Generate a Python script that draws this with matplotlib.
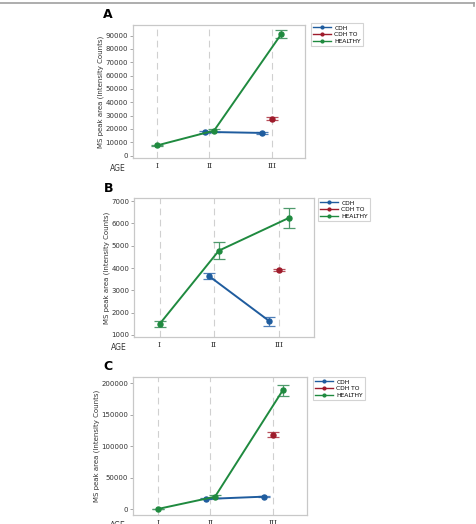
import numpy as np
import matplotlib
matplotlib.use("Agg")
import matplotlib.pyplot as plt
from matplotlib.lines import Line2D

# age groups on the x axis (Minitab spaces III a bit wider)
ages = ["I", "II", "III"]
age_pos = [1.0, 2.0, 3.2]

groups = ["CDH", "CDH TO", "HEALTHY"]
# which ages each group was measured at
cdh_ages = ["II", "III"]
cdhto_ages = ["III"]
healthy_ages = ["I", "II", "III"]

# panel A
a_cdh = [17800, 17000]
a_cdh_err = [1000, 900]
a_cdhto = [27750]
a_cdhto_err = [1250]
a_healthy = [7700, 18750, 91000]
a_healthy_err = [500, 1400, 3000]
a_ticks = list(range(0, 90001, 10000))

# panel B
b_cdh = [3640, 1620]
b_cdh_err = [120, 200]
b_cdhto = [3910]
b_cdhto_err = [30]
b_healthy = [1490, 4780, 6250]
b_healthy_err = [125, 380, 440]
b_ticks = list(range(1000, 7001, 1000))

# panel C
c_cdh = [16400, 20100]
c_cdh_err = [800, 800]
c_cdhto = [118500]
c_cdhto_err = [4500]
c_healthy = [500, 20000, 189000]
c_healthy_err = [300, 2000, 9000]
c_ticks = list(range(0, 200001, 50000))

colors = {"CDH": "#1f5c9e", "CDH TO": "#9e1b2b", "HEALTHY": "#1f8a3f"}
err_colors = {"CDH": "#4f7fb8", "CDH TO": "#b8505c", "HEALTHY": "#4f9a6c"}

W, H = 477, 524
fig = plt.figure(figsize=(W / 100, H / 100), dpi=100)


def px_axes(left, top, right, bottom):
    return fig.add_axes([left / W, 1 - bottom / H, (right - left) / W, (bottom - top) / H])


def positions(group_ages, group):
    # offset of each group inside an age cluster
    xs = []
    for a in group_ages:
        present = [g for g, ga in zip(groups, [cdh_ages, cdhto_ages, healthy_ages]) if a in ga]
        n = len(present)
        j = present.index(group)
        xs.append(age_pos[ages.index(a)] + (j - (n - 1) / 2) * 0.18)
    return xs


def panel(box, letter, series, ticks, ylim, legbox):
    ax = px_axes(*box)
    for p in age_pos:
        ax.axvline(p, color="#d0d0d0", lw=0.8, ls=(0, (6, 4)), zorder=0)
    handles = []
    for g, ga, vals, errs in series:
        xs = positions(ga, g)
        ax.errorbar(xs, vals, yerr=errs, fmt="none", ecolor=err_colors[g],
                    elinewidth=0.9, capsize=4.5, capthick=0.9, zorder=2)
        ax.plot(xs, vals, color=colors[g], lw=1.4, marker="o", ms=3.6, zorder=3)
        handles.append(Line2D([], [], color=colors[g], lw=1.0, marker="o", ms=2))
    ax.set_xlim(0.53, 3.84)
    ax.set_ylim(*ylim)
    ax.set_yticks(ticks)
    ax.set_yticklabels([str(t) for t in ticks])
    ax.set_xticks(age_pos)
    ax.set_xticklabels(ages, family="DejaVu Serif", fontsize=5.5, color="#333333")
    ax.tick_params(axis="y", labelsize=5, labelcolor="#333333", length=2, width=0.6,
                   color="#999999", pad=1.5)
    ax.tick_params(axis="x", length=0, pad=3)
    for s in ax.spines.values():
        s.set_color("#c8c8c8")
        s.set_linewidth(0.9)
    ax.set_ylabel("MS peak area (Intensity Counts)", fontsize=5, labelpad=1, color="#333333")
    ax.text(-0.04, -0.045, "AGE", transform=ax.transAxes, fontsize=5.5,
            ha="right", va="top", color="#333333")
    fig.text((box[0] - 30) / W, 1 - (box[1] - 10) / H, letter, fontsize=9,
             fontweight="bold", ha="left", va="center")
    leg = fig.legend(handles, groups, loc="upper left",
                     bbox_to_anchor=(legbox[0] / W, 1 - legbox[1] / H),
                     fontsize=4.3, frameon=True, fancybox=False,
                     handlelength=3.0, handletextpad=0.5, borderpad=0.4,
                     labelspacing=0.25, borderaxespad=0)
    leg.get_frame().set_edgecolor("#c8c8c8")
    leg.get_frame().set_linewidth(0.8)
    return ax


panel((133, 25, 305, 158), "A",
      [("CDH", cdh_ages, a_cdh, a_cdh_err),
       ("CDH TO", cdhto_ages, a_cdhto, a_cdhto_err),
       ("HEALTHY", healthy_ages, a_healthy, a_healthy_err)],
      a_ticks, (-1800, 98000), (311, 23))

panel((134, 198, 314, 337), "B",
      [("CDH", cdh_ages, b_cdh, b_cdh_err),
       ("CDH TO", cdhto_ages, b_cdhto, b_cdhto_err),
       ("HEALTHY", healthy_ages, b_healthy, b_healthy_err)],
      b_ticks, (910, 7140), (318, 198))

panel((133, 377, 307, 515), "C",
      [("CDH", cdh_ages, c_cdh, c_cdh_err),
       ("CDH TO", cdhto_ages, c_cdhto, c_cdhto_err),
       ("HEALTHY", healthy_ages, c_healthy, c_healthy_err)],
      c_ticks, (-9000, 210000), (313, 377))

# thin frame line across the top of the figure
fig.add_artist(Line2D([0, 474 / W], [1 - 3 / H, 1 - 3 / H], color="#a0a0a0", lw=1.2))
fig.add_artist(Line2D([474 / W, 474 / W], [1 - 3 / H, 1 - 6 / H], color="#a0a0a0", lw=1.2))

fig.savefig("out.png", dpi=100)
